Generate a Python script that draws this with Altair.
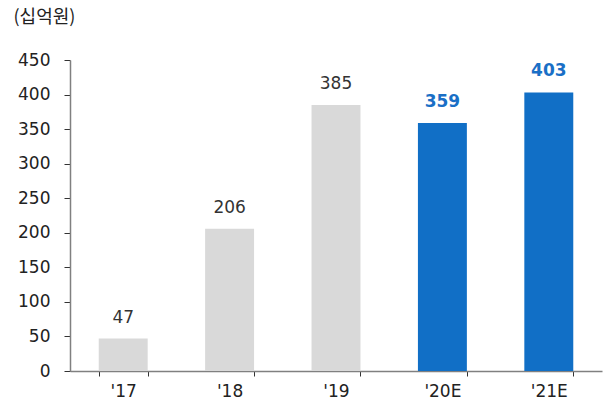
import altair as alt
import pandas as pd

years = ["'17", "'18", "'19", "'20E", "'21E"]
values = [47, 206, 385, 359, 403]
kinds = ["actual", "actual", "actual", "estimate", "estimate"]
y_ticks = [0, 50, 100, 150, 200, 250, 300, 350, 400, 450]

df = pd.DataFrame({"year": years, "value": values, "kind": kinds})

FONT = "Noto Sans CJK KR"
NUMFONT = "DejaVu Sans"
color_scale = alt.Scale(domain=["actual", "estimate"], range=["#D9D9D9", "#116FC6"])

x = alt.X("year:N", sort=years, title=None,
          scale=alt.Scale(paddingInner=0.54, paddingOuter=0.27),
          axis=alt.Axis(labelAngle=0, labelFont=NUMFONT, labelFontSize=17, labelColor="#222222",
                        tickBand="extent", tickSize=5, tickColor="#333333",
                        domainColor="#808080", domainWidth=1.5, labelPadding=7))
y = alt.Y("value:Q", scale=alt.Scale(domain=[0, 450], nice=False),
          axis=alt.Axis(values=y_ticks, tickCount=10, grid=False, tickSize=6,
                        labelOverlap=False,
                        tickColor="#333333", domainColor="#808080", domainWidth=1.5,
                        labelFont=NUMFONT, labelFontSize=17, labelColor="#222222", labelPadding=14,
                        title="(십억원)", titleAngle=0, titleX=-57, titleY=-43,
                        titleAlign="left", titleBaseline="middle", titleFont=FONT,
                        titleFontSize=18, titleFontWeight="normal", titleColor="#222222"))

bars = alt.Chart(df).mark_bar().encode(
    x=x, y=y, color=alt.Color("kind:N", scale=color_scale, legend=None))

labels_a = alt.Chart(df).transform_filter(alt.datum.kind == "actual").mark_text(
    dy=-12, baseline="bottom", font=NUMFONT, fontSize=17, color="#333333").encode(
    x=x, y=y, text="value:Q")

labels_e = alt.Chart(df).transform_filter(alt.datum.kind == "estimate").mark_text(
    dy=-12, baseline="bottom", font=NUMFONT, fontSize=17, fontWeight="bold", color="#1A6FC6").encode(
    x=x, y=y, text="value:Q")

chart = alt.layer(bars, labels_a, labels_e).properties(
    width=532, height=311,
    autosize=alt.AutoSizeParams(type="none"),
    padding={"left": 70, "top": 60, "right": 4, "bottom": 36},
).configure_view(stroke=None)

chart.save("out.html", embed_options={"renderer": "svg", "actions": False})
